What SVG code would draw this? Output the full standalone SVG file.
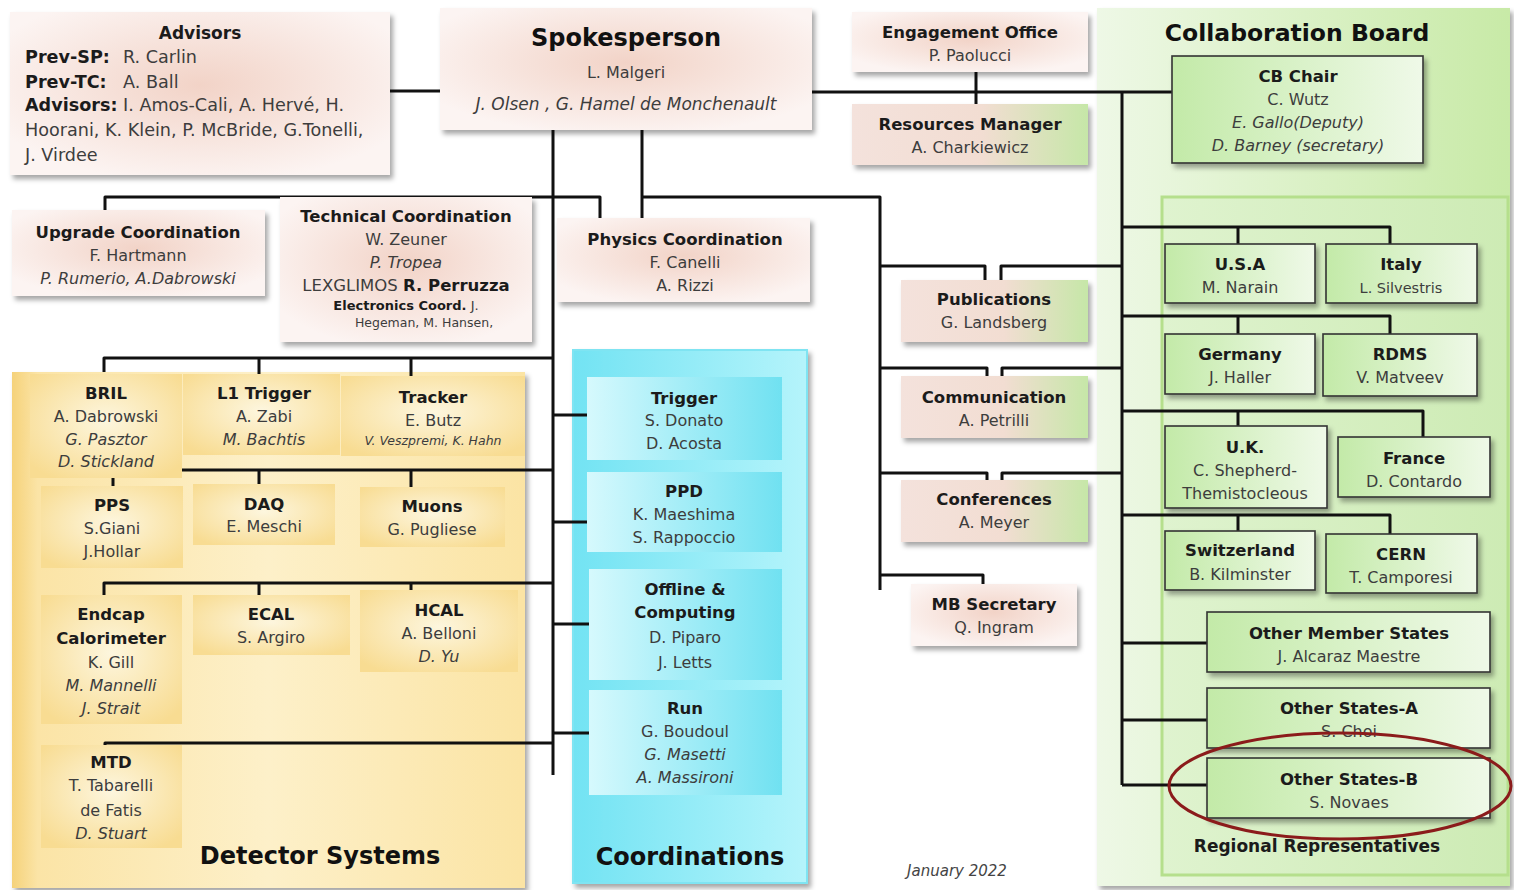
<svg xmlns="http://www.w3.org/2000/svg" width="1514" height="890" viewBox="0 0 1514 890">
<defs>
<style>
text{font-family:"DejaVu Sans","Noto Sans",sans-serif;text-anchor:middle;}
.t{font-weight:bold;font-size:16.5px;fill:#1b1b1b;}
.n{font-size:16px;fill:#3d3d3d;}
.i{font-size:16px;fill:#3d3d3d;font-style:italic;}
.l{text-anchor:start;font-size:17.6px;fill:#3d3d3d;}
.b{font-weight:bold;fill:#1b1b1b;}
.big{font-weight:bold;font-size:24px;fill:#111;}
.sm{font-size:12.5px;fill:#3d3d3d;}
.pk{fill:url(#pink);filter:url(#sh);}
.pg{fill:url(#pinkgreen);filter:url(#sh);}
.gb{fill:url(#green);stroke:#333;stroke-width:1.6;filter:url(#sh);}
.yb{fill:url(#yel);}
.cb{fill:url(#cyb);}
.c path{fill:none;stroke:#111;stroke-width:3;stroke-linejoin:round;}
</style>
<filter id="sh" x="-10%" y="-10%" width="125%" height="135%">
<feDropShadow dx="3" dy="4" stdDeviation="2.5" flood-color="#000" flood-opacity="0.35"/>
</filter>
<radialGradient id="pink" cx="50%" cy="45%" r="60%">
<stop offset="0" stop-color="#f2d3c7"/>
<stop offset="1" stop-color="#fcf4f2"/>
</radialGradient>
<linearGradient id="pinkgreen" x1="0" y1="0" x2="1" y2="0">
<stop offset="0" stop-color="#f4e2dc"/>
<stop offset="0.55" stop-color="#f2ddd2"/>
<stop offset="1" stop-color="#c6e7a8"/>
</linearGradient>
<linearGradient id="green" x1="0" y1="0" x2="1" y2="0">
<stop offset="0" stop-color="#c3eaa8"/>
<stop offset="1" stop-color="#eff9e8"/>
</linearGradient>
<linearGradient id="gout" x1="0" y1="0" x2="1" y2="0">
<stop offset="0" stop-color="#eef8e6"/>
<stop offset="1" stop-color="#c8eaa7"/>
</linearGradient>
<linearGradient id="gin" x1="0" y1="0" x2="1" y2="0">
<stop offset="0" stop-color="#dff3cf"/>
<stop offset="1" stop-color="#cdebb4"/>
</linearGradient>
<linearGradient id="ydet" x1="0" y1="0" x2="1" y2="0">
<stop offset="0" stop-color="#f5d27a"/>
<stop offset="0.05" stop-color="#fbe4a6"/>
<stop offset="0.5" stop-color="#fdf0c9"/>
<stop offset="1" stop-color="#fbe4a4"/>
</linearGradient>
<radialGradient id="yel" cx="50%" cy="45%" r="65%">
<stop offset="0" stop-color="#fdf6de"/>
<stop offset="1" stop-color="#f8dc92"/>
</radialGradient>
<linearGradient id="cyr" x1="0" y1="0" x2="1" y2="0">
<stop offset="0" stop-color="#72e3f3"/>
<stop offset="1" stop-color="#b5f4fb"/>
</linearGradient>
<linearGradient id="cyb" x1="0" y1="0" x2="1" y2="0">
<stop offset="0" stop-color="#d6f9fd"/>
<stop offset="1" stop-color="#70e1f1"/>
</linearGradient>
</defs>

<rect width="1514" height="890" fill="#ffffff"/>

<g id="region-collaboration">
<rect x="1097" y="8" width="413" height="878" fill="url(#gout)" filter="url(#sh)"/>
<text class="big" x="1297" y="41" style="font-size:23.5px">Collaboration Board</text>
</g>
<g id="region-regional">
<rect x="1162" y="197" width="346" height="678" fill="url(#gin)" stroke="#b5df8c" stroke-width="3"/>
<text class="t" x="1317" y="852" style="font-size:17px">Regional Representatives</text>
</g>
<g id="region-detector">
<rect x="12" y="372" width="513" height="516" fill="url(#ydet)" filter="url(#sh)"/>
<text class="big" x="320" y="864">Detector Systems</text>
</g>
<g id="region-coordinations">
<rect x="573" y="350" width="234" height="533" fill="url(#cyr)" stroke="#7fe4f2" stroke-width="2" filter="url(#sh)"/>
<text class="big" x="690" y="865" style="font-size:24px">Coordinations</text>
</g>

<g class="c" id="connectors">
<path d="M390 91H440"/>
<path d="M812 92H1172"/>
<path d="M976 72V104"/>
<path d="M1122 92V785"/>
<path d="M553 130V775"/>
<path d="M642 130V218"/>
<path d="M642 197H880V590"/>
<path d="M553 197H600V218"/>
<path d="M105 210V197H553"/>
<path d="M104 372V358H553"/>
<path d="M259 358V374"/>
<path d="M411 358V376"/>
<path d="M182 470H553"/>
<path d="M259 470V484"/>
<path d="M411 470V487"/>
<path d="M113 478V486"/>
<path d="M104 595V583H553"/>
<path d="M259 583V595"/>
<path d="M411 583V590"/>
<path d="M105 747V743H553"/>
<path d="M553 415H587"/>
<path d="M553 522H587"/>
<path d="M553 624H589"/>
<path d="M553 733H589"/>
<path d="M880 266H985V280"/>
<path d="M1001 280V266H1122"/>
<path d="M880 368H987V376"/>
<path d="M1002 376V368H1122"/>
<path d="M880 473H987V480"/>
<path d="M1002 480V473H1122"/>
<path d="M880 575H983V584"/>
<path d="M1122 227H1390V244"/>
<path d="M1238 227V244"/>
<path d="M1122 316H1390V334"/>
<path d="M1238 316V334"/>
<path d="M1122 411H1423V437"/>
<path d="M1238 411V426"/>
<path d="M1122 515H1390V534"/>
<path d="M1238 515V531"/>
<path d="M1122 643H1207"/>
<path d="M1122 720H1207"/>
<path d="M1122 785H1207"/>
</g>

<g id="advisors">
<rect class="pk" x="10" y="12" width="380" height="163"/>
<text class="t" x="200" y="39" style="font-size:17px">Advisors</text>
<text class="l" x="25" y="63"><tspan class="b">Prev-SP:</tspan><tspan x="123">R. Carlin</tspan></text>
<text class="l" x="25" y="88"><tspan class="b">Prev-TC:</tspan><tspan x="123">A.  Ball</tspan></text>
<text class="l" x="25" y="111"><tspan class="b">Advisors:</tspan> I. Amos-Cali, A. Hervé, H.</text>
<text class="l" x="25" y="136">Hoorani, K. Klein, P. McBride, G.Tonelli,</text>
<text class="l" x="25" y="161">J. Virdee</text>
</g>

<g id="spokesperson">
<rect class="pk" x="440" y="8" width="372" height="122"/>
<text class="big" x="626" y="46">Spokesperson</text>
<text class="n" x="626" y="78">L. Malgeri</text>
<text class="i" x="626" y="110" style="font-size:17px">J. Olsen , G. Hamel de Monchenault</text>
</g>

<g id="engagement">
<rect class="pk" x="852" y="12" width="236" height="60"/>
<text class="t" x="970" y="38">Engagement Office</text>
<text class="n" x="970" y="61">P. Paolucci</text>
</g>
<g id="resources">
<rect class="pg" x="852" y="104" width="236" height="61"/>
<text class="t" x="970" y="130">Resources Manager</text>
<text class="n" x="970" y="153">A. Charkiewicz</text>
</g>

<g id="cb-chair">
<rect class="gb" x="1172" y="56" width="251" height="107"/>
<text class="t" x="1298" y="82">CB Chair</text>
<text class="n" x="1298" y="105">C. Wutz</text>
<text class="i" x="1298" y="128">E. Gallo(Deputy)</text>
<text class="i" x="1298" y="151">D. Barney (secretary)</text>
</g>

<g id="upgrade">
<rect class="pk" x="12" y="210" width="253" height="86"/>
<text class="t" x="138" y="238">Upgrade Coordination</text>
<text class="n" x="138" y="261">F. Hartmann</text>
<text class="i" x="138" y="284">P. Rumerio, A.Dabrowski</text>
</g>

<g id="technical">
<rect class="pk" x="280" y="197" width="252" height="145"/>
<text class="t" x="406" y="222">Technical Coordination</text>
<text class="n" x="406" y="245">W. Zeuner</text>
<text class="i" x="406" y="268">P. Tropea</text>
<text class="n" x="406" y="291" style="font-size:16.5px">LEXGLIMOS  <tspan class="b">R. Perruzza</tspan></text>
<text class="sm" x="406" y="310" style="font-size:13px"><tspan class="b">Electronics Coord.</tspan> J.</text>
<text class="sm" x="424" y="327">Hegeman, M. Hansen,</text>
</g>

<g id="physics">
<rect class="pk" x="557" y="218" width="253" height="84"/>
<text class="t" x="685" y="245">Physics Coordination</text>
<text class="n" x="685" y="268">F. Canelli</text>
<text class="n" x="685" y="291">A. Rizzi</text>
</g>

<g id="publications">
<rect class="pg" x="901" y="280" width="187" height="62"/>
<text class="t" x="994" y="305">Publications</text>
<text class="n" x="994" y="328">G. Landsberg</text>
</g>
<g id="communication">
<rect class="pg" x="901" y="376" width="187" height="62"/>
<text class="t" x="994" y="403">Communication</text>
<text class="n" x="994" y="426">A. Petrilli</text>
</g>
<g id="conferences">
<rect class="pg" x="901" y="480" width="187" height="62"/>
<text class="t" x="994" y="505">Conferences</text>
<text class="n" x="994" y="528">A. Meyer</text>
</g>
<g id="mb-secretary">
<rect class="pk" x="911" y="584" width="166" height="62"/>
<text class="t" x="994" y="610">MB Secretary</text>
<text class="n" x="994" y="633">Q. Ingram</text>
</g>

<g id="bril">
<rect class="yb" x="30" y="374" width="152" height="104"/>
<text class="t" x="106" y="399">BRIL</text>
<text class="n" x="106" y="422">A.   Dabrowski</text>
<text class="i" x="106" y="445">G. Pasztor</text>
<text class="i" x="106" y="467">D. Stickland</text>
</g>
<g id="l1trigger">
<rect class="yb" x="183" y="374" width="157" height="81"/>
<text class="t" x="264" y="399">L1 Trigger</text>
<text class="n" x="264" y="422">A. Zabi</text>
<text class="i" x="264" y="445">M. Bachtis</text>
</g>
<g id="tracker">
<rect class="yb" x="341" y="376" width="184" height="80"/>
<text class="t" x="433" y="403">Tracker</text>
<text class="n" x="433" y="426">E. Butz</text>
<text class="i" x="433" y="445" style="font-size:12.5px">V. Veszpremi, K. Hahn</text>
</g>
<g id="pps">
<rect class="yb" x="41" y="486" width="142" height="82"/>
<text class="t" x="112" y="511">PPS</text>
<text class="n" x="112" y="534">S.Giani</text>
<text class="n" x="112" y="557">J.Hollar</text>
</g>
<g id="daq">
<rect class="yb" x="193" y="484" width="142" height="61"/>
<text class="t" x="264" y="510">DAQ</text>
<text class="n" x="264" y="532">E. Meschi</text>
</g>
<g id="muons">
<rect class="yb" x="360" y="487" width="145" height="60"/>
<text class="t" x="432" y="512">Muons</text>
<text class="n" x="432" y="535">G. Pugliese</text>
</g>
<g id="endcap">
<rect class="yb" x="41" y="595" width="141" height="129"/>
<text class="t" x="111" y="620">Endcap</text>
<text class="t" x="111" y="644">Calorimeter</text>
<text class="n" x="111" y="668">K. Gill</text>
<text class="i" x="111" y="691">M. Mannelli</text>
<text class="i" x="111" y="714">J. Strait</text>
</g>
<g id="ecal">
<rect class="yb" x="193" y="595" width="157" height="60"/>
<text class="t" x="271" y="620">ECAL</text>
<text class="n" x="271" y="643">S. Argiro</text>
</g>
<g id="hcal">
<rect class="yb" x="360" y="590" width="158" height="82"/>
<text class="t" x="439" y="616">HCAL</text>
<text class="n" x="439" y="639">A. Belloni</text>
<text class="i" x="439" y="662">D. Yu</text>
</g>
<g id="mtd">
<rect class="yb" x="41" y="745" width="141" height="103"/>
<text class="t" x="111" y="768">MTD</text>
<text class="n" x="111" y="791">T. Tabarelli</text>
<text class="n" x="111" y="816">de Fatis</text>
<text class="i" x="111" y="839">D. Stuart</text>
</g>

<g id="trigger">
<rect class="cb" x="587" y="377" width="195" height="83"/>
<text class="t" x="684" y="404">Trigger</text>
<text class="n" x="684" y="426">S. Donato</text>
<text class="n" x="684" y="449">D. Acosta</text>
</g>
<g id="ppd">
<rect class="cb" x="587" y="472" width="195" height="80"/>
<text class="t" x="684" y="497">PPD</text>
<text class="n" x="684" y="520">K. Maeshima</text>
<text class="n" x="684" y="543">S. Rappoccio</text>
</g>
<g id="offline">
<rect class="cb" x="589" y="569" width="193" height="111"/>
<text class="t" x="685" y="595">Offline &amp;</text>
<text class="t" x="685" y="618">Computing</text>
<text class="n" x="685" y="643">D. Piparo</text>
<text class="n" x="685" y="668">J. Letts</text>
</g>
<g id="run">
<rect class="cb" x="589" y="690" width="193" height="105"/>
<text class="t" x="685" y="714">Run</text>
<text class="n" x="685" y="737">G. Boudoul</text>
<text class="i" x="685" y="760">G. Masetti</text>
<text class="i" x="685" y="783">A. Massironi</text>
</g>

<g id="usa">
<rect class="gb" x="1165" y="244" width="150" height="59"/>
<text class="t" x="1240" y="270">U.S.A</text>
<text class="n" x="1240" y="293">M. Narain</text>
</g>
<g id="italy">
<rect class="gb" x="1326" y="244" width="151" height="59"/>
<text class="t" x="1401" y="270">Italy</text>
<text class="n" x="1401" y="293" style="font-size:14.5px">L. Silvestris</text>
</g>
<g id="germany">
<rect class="gb" x="1165" y="334" width="150" height="60"/>
<text class="t" x="1240" y="360">Germany</text>
<text class="n" x="1240" y="383">J. Haller</text>
</g>
<g id="rdms">
<rect class="gb" x="1323" y="334" width="154" height="62"/>
<text class="t" x="1400" y="360">RDMS</text>
<text class="n" x="1400" y="383">V. Matveev</text>
</g>
<g id="uk">
<rect class="gb" x="1165" y="426" width="162" height="82"/>
<text class="t" x="1245" y="453">U.K.</text>
<text class="n" x="1245" y="476">C. Shepherd-</text>
<text class="n" x="1245" y="499">Themistocleous</text>
</g>
<g id="france">
<rect class="gb" x="1338" y="437" width="152" height="60"/>
<text class="t" x="1414" y="464">France</text>
<text class="n" x="1414" y="487">D. Contardo</text>
</g>
<g id="switzerland">
<rect class="gb" x="1165" y="531" width="150" height="59"/>
<text class="t" x="1240" y="556">Switzerland</text>
<text class="n" x="1240" y="580">B. Kilminster</text>
</g>
<g id="cern">
<rect class="gb" x="1326" y="534" width="151" height="59"/>
<text class="t" x="1401" y="560">CERN</text>
<text class="n" x="1401" y="583">T. Camporesi</text>
</g>
<g id="other-member">
<rect class="gb" x="1207" y="612" width="283" height="60"/>
<text class="t" x="1349" y="639">Other Member States</text>
<text class="n" x="1349" y="662">J. Alcaraz Maestre</text>
</g>
<g id="other-a">
<rect class="gb" x="1207" y="688" width="283" height="60"/>
<text class="t" x="1349" y="714">Other States-A</text>
<text class="n" x="1349" y="737">S. Choi</text>
</g>
<g id="other-b">
<rect class="gb" x="1207" y="758" width="283" height="60"/>
<text class="t" x="1349" y="785">Other States-B</text>
<text class="n" x="1349" y="808">S. Novaes</text>
</g>

<ellipse cx="1340" cy="786" rx="171" ry="53" fill="none" stroke="#8b1b1b" stroke-width="3"/>
<text x="957" y="876" style="font-size:15px;font-style:italic;fill:#444">January 2022</text>
</svg>
